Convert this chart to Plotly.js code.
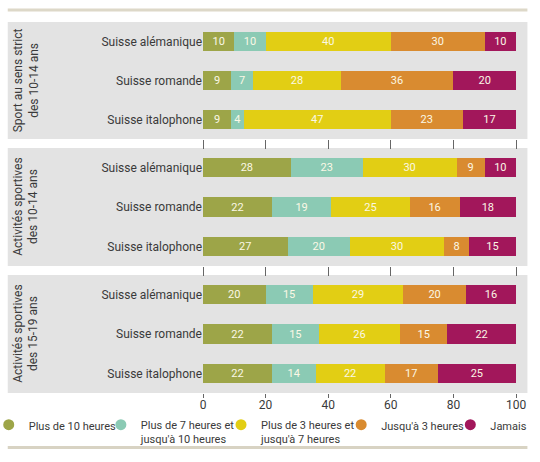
<!DOCTYPE html>
<html>
<head>
<meta charset="utf-8">
<script src="https://cdn.plot.ly/plotly-3.0.1.min.js"></script>
<style>html,body{margin:0;padding:0;background:#fff;}#chart{width:540px;height:462px;}</style>
</head>
<body>
<div id="chart"></div>
<script>
// ---- data ----
const regions = ["Suisse alémanique", "Suisse romande", "Suisse italophone"];
const panelTitles = [
  "Sport au sens strict<br>des 10-14 ans",
  "Activités sportives<br>des 10-14 ans",
  "Activités sportives<br>des 15-19 ans"
];
const seriesNames = [
  "Plus de 10 heures",
  "Plus de 7 heures et<br>jusqu'à 10 heures",
  "Plus de 3 heures et<br>jusqu'à 7 heures",
  "Jusqu'à 3 heures",
  "Jamais"
];
const seriesColors = ["#9da548", "#8bcab4", "#e2ce14", "#d98b30", "#a2175b"];
const sport1014 = [
  [10, 10, 40, 30, 10],
  [9, 7, 28, 36, 20],
  [9, 4, 47, 23, 17]
];
const activ1014 = [
  [28, 23, 30, 9, 10],
  [22, 19, 25, 16, 18],
  [27, 20, 30, 8, 15]
];
const activ1519 = [
  [20, 15, 29, 20, 16],
  [22, 15, 26, 15, 22],
  [22, 14, 22, 17, 25]
];
const xTicks = [0, 20, 40, 60, 80, 100];

const panels = [sport1014, activ1014, activ1519];
const yNames = ["y", "y2", "y3"];
const xNames = ["x", "x2", "x3"];
const traces = [];
panels.forEach((panel, p) => {
  seriesNames.forEach((name, s) => {
    traces.push({
      type: "bar", orientation: "h",
      y: regions, x: panel.map(row => row[s]),
      xaxis: xNames[p], yaxis: yNames[p],
      name: name, showlegend: false,
      marker: {color: seriesColors[s], line: {width: 0}},
      texttemplate: "%{x}", textposition: "inside", insidetextanchor: "middle", textangle: 0,
      textfont: {family: "Roboto, sans-serif", size: 11, color: "#fbf8e6"},
      hoverinfo: "skip"
    });
  });
});
const legendNames = ["legend", "legend2", "legend3", "legend4", "legend5"];
seriesNames.forEach((name, s) => {
  traces.push({
    type: "scatter", mode: "markers",
    x: [null], y: [null], xaxis: "x", yaxis: "y",
    name: name, legend: legendNames[s], showlegend: true,
    marker: {symbol: "circle", size: 11, color: seriesColors[s]}
  });
});

const L = 203, R = 515.6, T = 22, B = 393;
const W = R - L, H = B - T;
const px2x = v => (v - L) / W;
const py2y = v => (B - v) / H;
const domains = [[py2y(139), 1], [py2y(266), py2y(148)], [0, py2y(275)]];
const font = {family: "Roboto, sans-serif", size: 12, color: "#3a3a3a"};
const legendFont = {family: "Roboto, sans-serif", size: 11, color: "#3a3a3a"};

const layout = {
  width: 540, height: 462,
  margin: {l: L, r: 540 - R, t: T, b: 462 - B, pad: 0, autoexpand: false},
  paper_bgcolor: "#ffffff", plot_bgcolor: "rgba(0,0,0,0)",
  font: font, barmode: "stack", bargap: 0.51,
  shapes: [], annotations: []
};
domains.forEach((d, p) => {
  const yk = p === 0 ? "yaxis" : "yaxis" + (p + 1);
  const xk = p === 0 ? "xaxis" : "xaxis" + (p + 1);
  layout[yk] = {domain: d, type: "category", autorange: "reversed", anchor: xNames[p],
    showgrid: false, zeroline: false, showline: false, ticks: "", tickfont: font, fixedrange: true, automargin: false};
  layout[xk] = {anchor: yNames[p], range: [0, 100], showgrid: false, zeroline: false, showline: false,
    tickmode: "array", tickvals: xTicks, ticktext: xTicks.map(String),
    ticks: "outside", ticklen: p === 2 ? 4 : 9, tickcolor: "#666", tickwidth: 1,
    ticklabelstandoff: -3,
    showticklabels: p === 2, tickfont: font, fixedrange: true, automargin: false};
  if (p > 0) layout[xk].matches = "x";
  layout.shapes.push({type: "rect", layer: "below", xref: "paper", yref: yNames[p] + " domain",
    x0: px2x(8), x1: px2x(527), y0: 0, y1: 1, fillcolor: "#e3e3e3", line: {width: 0}});
  layout.annotations.push({text: panelTitles[p], textangle: -90, showarrow: false,
    xref: "paper", yref: yNames[p] + " domain", x: px2x(26), y: 0.5,
    xanchor: "center", yanchor: "middle", align: "center", font: font});
});
layout.shapes.push({type: "line", xref: "paper", yref: "paper",
  x0: px2x(8), x1: px2x(527), y0: py2y(10), y1: py2y(10), line: {color: "#ddd8c8", width: 3}});
layout.shapes.push({type: "line", xref: "paper", yref: "paper",
  x0: px2x(8), x1: px2x(527), y0: py2y(447.5), y1: py2y(447.5), line: {color: "#d8d3c3", width: 3}});

// legend placement: symbol drawn at +20 px, text at +40 px from legend left
const legendLeft = [-11, 101, 221, 341, 450];
legendNames.forEach((ln, s) => {
  layout[ln] = {orientation: "h", x: px2x(legendLeft[s]), xanchor: "left",
    y: py2y(411), yanchor: "top", valign: "top",
    bgcolor: "rgba(0,0,0,0)", borderwidth: 0, font: legendFont, itemclick: false, itemdoubleclick: false};
});

Plotly.newPlot("chart", traces, layout, {displayModeBar: false, staticPlot: true});
</script>
</body>
</html>
